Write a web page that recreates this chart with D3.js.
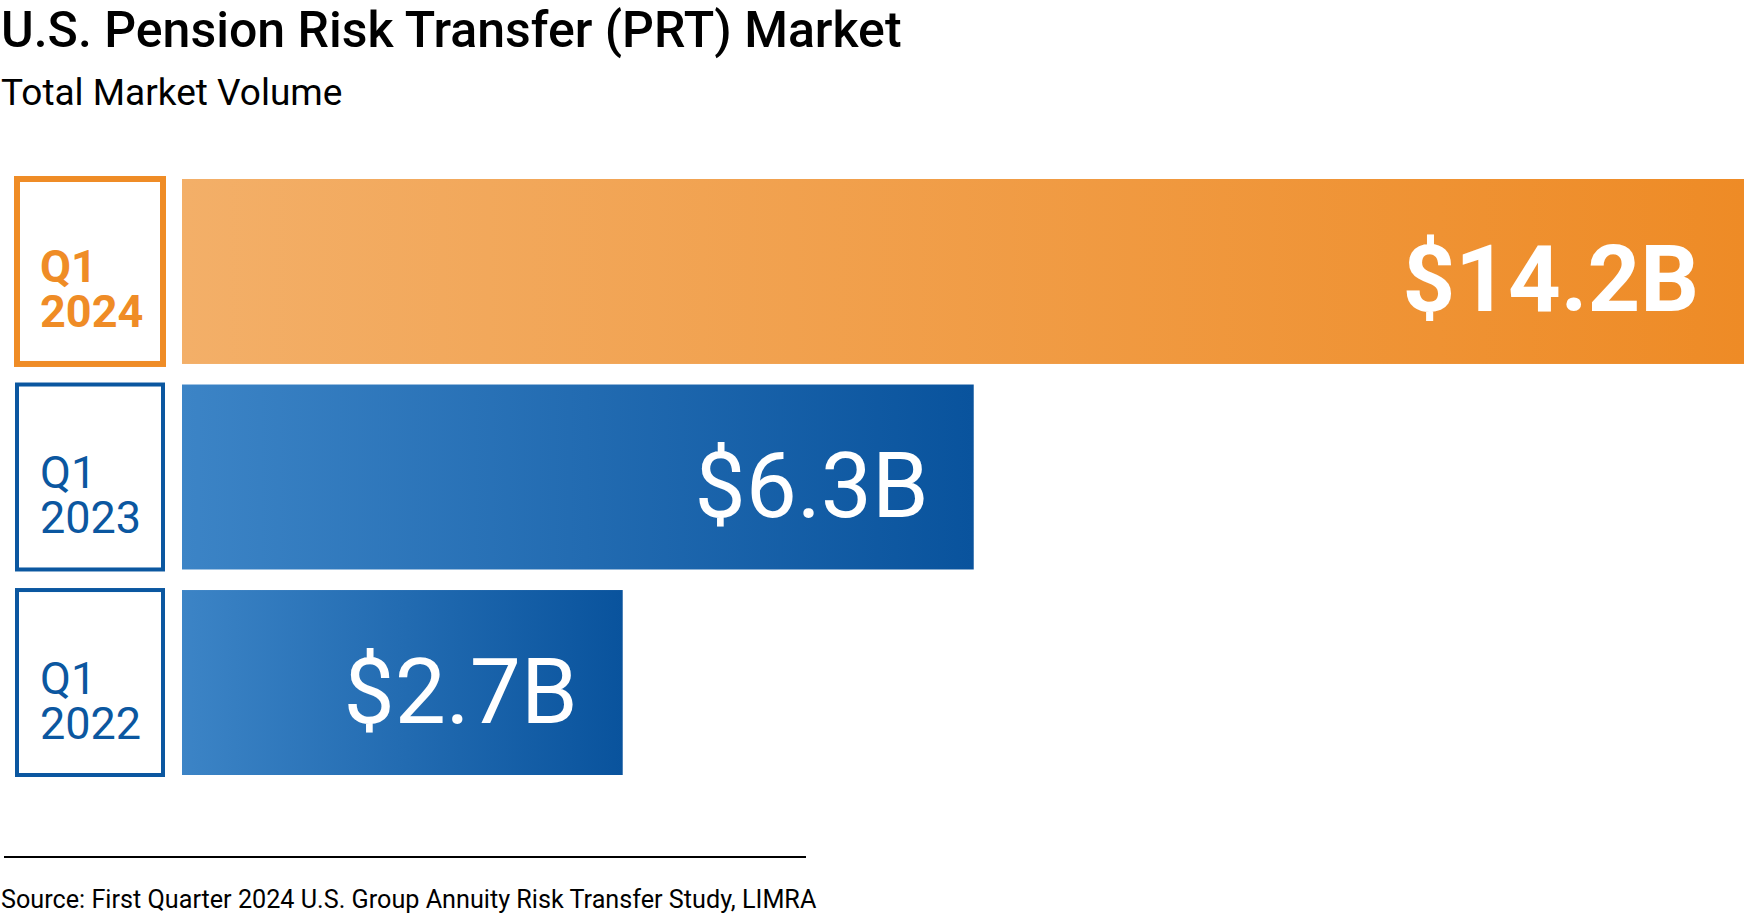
<!DOCTYPE html>
<html>
<head>
<meta charset="utf-8">
<script src="https://cdn.jsdelivr.net/npm/d3@7"></script>
<style>
  html, body { margin: 0; padding: 0; background: #fff; }
  svg { display: block; font-family: Roboto, "Noto Sans", sans-serif; }
</style>
</head>
<body>
<svg id="chart" width="1745" height="915"></svg>
<script>
// ---- data ----
const quarters = ["Q1", "Q1", "Q1"];
const years = ["2024", "2023", "2022"];
const values = [14.2, 6.3, 2.7];
const valueLabels = ["$14.2B", "$6.3B", "$2.7B"];
const highlight = [true, false, false];

const titleText = "U.S. Pension Risk Transfer (PRT) Market";
const subtitleText = "Total Market Volume";
const sourceText = "Source: First Quarter 2024 U.S. Group Annuity Risk Transfer Study, LIMRA";

// ---- styles ----
const orange = "#EF8C26";
const blue = "#0B57A0";

const svg = d3.select("#chart");
const defs = svg.append("defs");

const gO = defs.append("linearGradient").attr("id", "gradOrange")
  .attr("x1", "0%").attr("x2", "100%").attr("y1", "0%").attr("y2", "0%");
gO.append("stop").attr("offset", "0%").attr("stop-color", "#F3AF68");
gO.append("stop").attr("offset", "100%").attr("stop-color", "#EE8B26");

const gB = defs.append("linearGradient").attr("id", "gradBlue")
  .attr("x1", "0%").attr("x2", "100%").attr("y1", "0%").attr("y2", "0%");
gB.append("stop").attr("offset", "0%").attr("stop-color", "#3C84C6");
gB.append("stop").attr("offset", "100%").attr("stop-color", "#09539D");

// ---- scales ----
const rows = d3.range(values.length);
const y = d3.scaleBand().domain(rows).range([179, 775]).paddingInner(0.1).paddingOuter(0);
const xMin = -1.82;
const x = d3.scaleLinear().domain([xMin, 14.2]).range([182, 1744]);

// ---- title ----
svg.append("text").attr("x", 1).attr("y", 47)
  .attr("font-size", 50).attr("font-weight", 500).attr("fill", "#000")
  .text(titleText);
svg.append("text").attr("x", 1).attr("y", 105)
  .attr("font-size", 37).attr("font-weight", 400).attr("fill", "#000")
  .text(subtitleText);

// ---- label boxes ----
const boxX0 = 17, boxX1 = 163;
const g = svg.append("g");
const row = g.selectAll("g.row").data(rows).join("g").attr("class", "row");

row.append("rect")
  .attr("x", boxX0)
  .attr("y", i => y(i))
  .attr("width", boxX1 - boxX0)
  .attr("height", y.bandwidth())
  .attr("fill", "none")
  .attr("stroke", i => highlight[i] ? orange : blue)
  .attr("stroke-width", i => highlight[i] ? 6 : 4);

const lab = row.append("text")
  .attr("font-size", 45)
  .attr("font-weight", i => highlight[i] ? 700 : 400)
  .attr("fill", i => highlight[i] ? orange : blue);
lab.append("tspan")
  .attr("x", 40)
  .attr("y", i => y(i) + y.bandwidth() / 2 + 11)
  .text(i => quarters[i]);
lab.append("tspan")
  .attr("x", 40)
  .attr("y", i => y(i) + y.bandwidth() / 2 + 56)
  .text(i => years[i]);

// ---- bars ----
row.append("rect")
  .attr("x", x(xMin))
  .attr("y", i => y(i))
  .attr("width", i => x(values[i]) - x(xMin))
  .attr("height", y.bandwidth())
  .attr("fill", i => highlight[i] ? "url(#gradOrange)" : "url(#gradBlue)");

row.append("text")
  .attr("x", i => x(values[i]) - 45)
  .attr("y", i => y(i) + y.bandwidth() / 2 + 40)
  .attr("text-anchor", "end")
  .attr("font-size", i => highlight[i] ? 92 : 91)
  .attr("font-weight", i => highlight[i] ? 700 : 400)
  .attr("fill", "#fff")
  .text(i => valueLabels[i]);

// ---- footer ----
svg.append("line").attr("x1", 4).attr("x2", 806).attr("y1", 857).attr("y2", 857)
  .attr("stroke", "#000").attr("stroke-width", 2);
svg.append("text").attr("x", 1).attr("y", 908)
  .attr("font-size", 25.2).attr("fill", "#000")
  .text(sourceText);
</script>
</body>
</html>
